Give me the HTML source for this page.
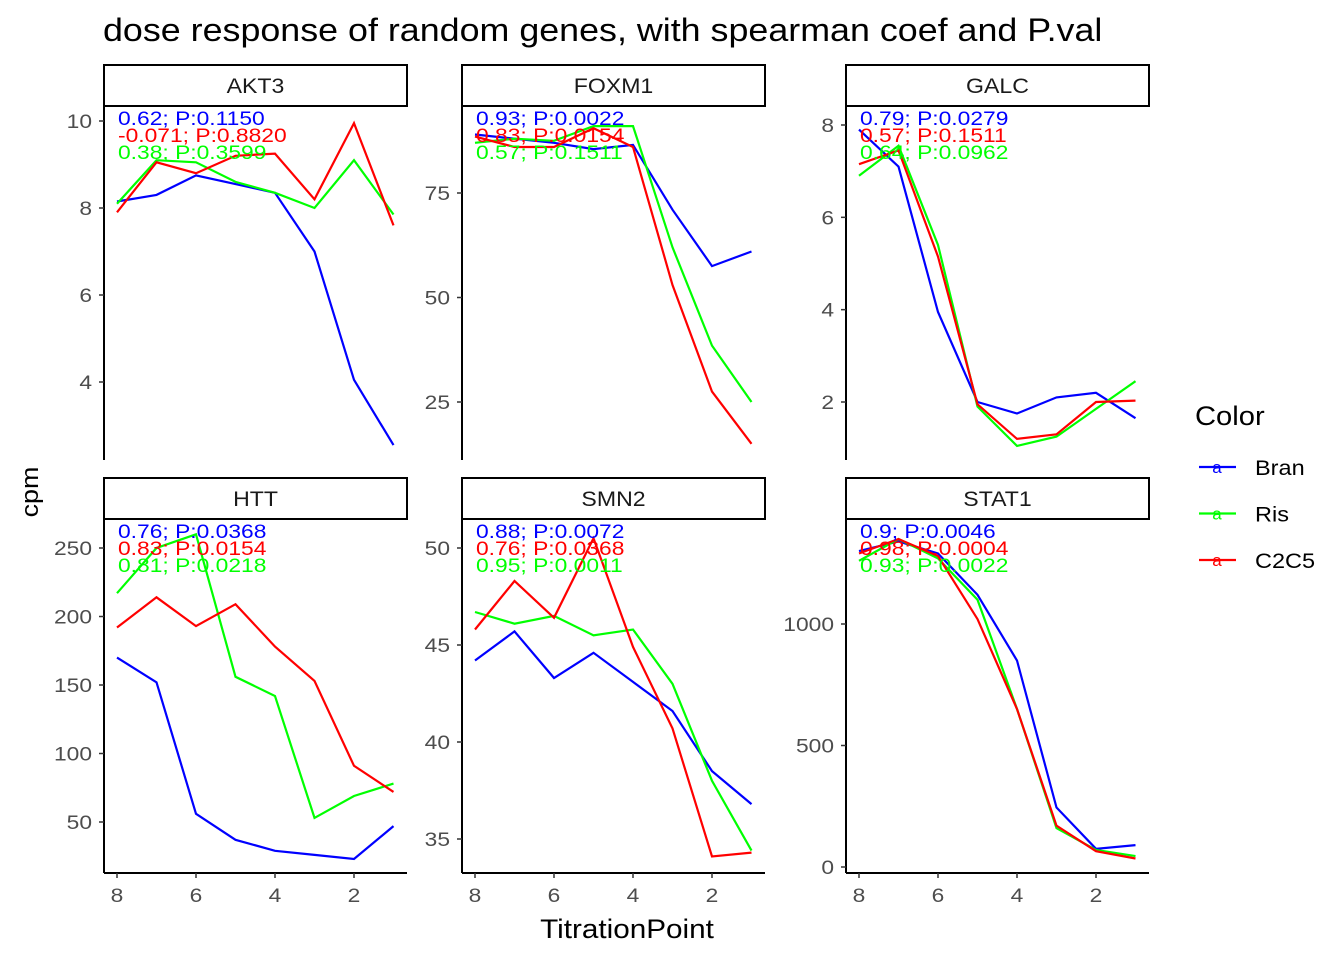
<!DOCTYPE html>
<html><head><meta charset="utf-8">
<style>
html,body{margin:0;padding:0;background:#fff;}
svg{display:block;font-family:"Liberation Sans",sans-serif;}
</style></head>
<body>
<svg id="chart" width="1344" height="960" viewBox="0 0 1344 960" xmlns="http://www.w3.org/2000/svg">
<text transform="translate(103,41) scale(1.12,1)" font-size="32" fill="#000">dose response of random genes, with spearman coef and P.val</text>
<text transform="translate(38,492) rotate(-90) scale(1.12,1)" font-size="24" text-anchor="middle">cpm</text>
<text transform="translate(627,938) scale(1.1,1)" font-size="27" text-anchor="middle">TitrationPoint</text>
<g id="legend">
<text transform="translate(1195,425) scale(1.08,1)" font-size="27">Color</text>
</g>
<g id="panels"></g>
</svg>
<script>
const xPoints = [8,7,6,5,4,3,2,1];
const seriesNames = ["Bran","Ris","C2C5"];
const seriesColors = ["#0000ff","#00ff00","#ff0000"];
const labelColors = ["#0000ff","#ff0000","#00ff00"];
const genes = ["AKT3","FOXM1","GALC","HTT","SMN2","STAT1"];
const akt3Bran = [8.15,8.3,8.75,8.55,8.35,7.0,4.05,2.55];
const akt3Ris = [8.1,9.1,9.05,8.6,8.35,8.0,9.1,7.85];
const akt3C2C5 = [7.9,9.05,8.8,9.2,9.25,8.2,9.95,7.6];
const foxm1Bran = [89,88,87,85.5,86.5,71,57.5,61];
const foxm1Ris = [87,88,87.5,91,91,62,38.5,25];
const foxm1C2C5 = [88.5,86,86,90.5,86,53,27.5,15];
const galcBran = [7.9,7.1,3.95,2.0,1.75,2.1,2.2,1.65];
const galcRis = [6.9,7.55,5.4,1.9,1.05,1.25,1.85,2.45];
const galcC2C5 = [7.15,7.45,5.15,1.95,1.2,1.3,2.0,2.03];
const httBran = [170,152,56,37,29,26,23,47];
const httRis = [217,250,260,156,142,53,69,78];
const httC2C5 = [192,214,193,209,178,153,91,72];
const smn2Bran = [44.2,45.7,43.3,44.6,43.1,41.6,38.5,36.8];
const smn2Ris = [46.7,46.1,46.5,45.5,45.8,43.0,38.0,34.4];
const smn2C2C5 = [45.8,48.3,46.4,50.5,44.9,40.7,34.1,34.3];
const stat1Bran = [1300,1340,1290,1120,850,245,75,90];
const stat1Ris = [1260,1350,1270,1100,650,160,70,45];
const stat1C2C5 = [1290,1350,1280,1020,650,170,65,35];
const akt3Labels = ["0.62; P:0.1150","-0.071; P:0.8820","0.38; P:0.3599"];
const foxm1Labels = ["0.93; P:0.0022","0.83; P:0.0154","0.57; P:0.1511"];
const galcLabels = ["0.79; P:0.0279","0.57; P:0.1511","0.64; P:0.0962"];
const httLabels = ["0.76; P:0.0368","0.83; P:0.0154","0.81; P:0.0218"];
const smn2Labels = ["0.88; P:0.0072","0.76; P:0.0368","0.95; P:0.0011"];
const stat1Labels = ["0.9; P:0.0046","0.98; P:0.0004","0.93; P:0.0022"];
const akt3Ticks = [4,6,8,10];
const foxm1Ticks = [25,50,75];
const galcTicks = [2,4,6,8];
const httTicks = [50,100,150,200,250];
const smn2Ticks = [35,40,45,50];
const stat1Ticks = [0,500,1000];
const xTicks = [8,6,4,2];

const NS="http://www.w3.org/2000/svg";
const root=document.getElementById('panels');
function mk(tag,attrs,parent){const e=document.createElementNS(NS,tag);for(const k in attrs)e.setAttribute(k,attrs[k]);(parent||root).appendChild(e);return e;}
function tx(x,y,sx,attrs,parent){attrs.transform='translate('+x+','+y+') scale('+sx+',1)';attrs.x=0;attrs.y=0;return mk('text',attrs,parent);}
const panels=[
 {series:[akt3Bran,akt3Ris,akt3C2C5],labels:akt3Labels,ticks:akt3Ticks,x0:104,top:106,bot:460,cal:[10,121,4,382]},
 {series:[foxm1Bran,foxm1Ris,foxm1C2C5],labels:foxm1Labels,ticks:foxm1Ticks,x0:462,top:106,bot:460,cal:[75,193,25,402]},
 {series:[galcBran,galcRis,galcC2C5],labels:galcLabels,ticks:galcTicks,x0:846,top:106,bot:460,cal:[8,125,2,402]},
 {series:[httBran,httRis,httC2C5],labels:httLabels,ticks:httTicks,x0:104,top:519,bot:873,cal:[250,548,50,822]},
 {series:[smn2Bran,smn2Ris,smn2C2C5],labels:smn2Labels,ticks:smn2Ticks,x0:462,top:519,bot:873,cal:[50,548,35,839]},
 {series:[stat1Bran,stat1Ris,stat1C2C5],labels:stat1Labels,ticks:stat1Ticks,x0:846,top:519,bot:873,cal:[1000,624,0,867]}
];
panels.forEach((p,i)=>{
 const W=303;
 const g=mk('g',{});
 
 
 const xs=v=>p.x0+13+(8-v)*39.5;
 const ys=v=>p.cal[1]+(v-p.cal[0])*(p.cal[3]-p.cal[1])/(p.cal[2]-p.cal[0]);
 const st=mk('rect',{x:p.x0,y:p.top-41,width:W,height:41,fill:'#fff',stroke:'#000','stroke-width':2},g);
 
 
 const stt=tx(p.x0+W/2,p.top-13,1.1,{'font-size':21,'text-anchor':'middle',fill:'#1a1a1a'},g);
 stt.textContent=genes[i];
 
 
 const ya=mk('line',{x1:p.x0,y1:p.top,x2:p.x0,y2:p.bot,stroke:'#000','stroke-width':2},g);
 
 
 p.ticks.forEach(t=>{
  const y=ys(t);
  mk('line',{x1:p.x0-5,y1:y,x2:p.x0,y2:y,stroke:'#333','stroke-width':1.5},g);
  const tl=tx(p.x0-12,y+7,1.2,{'font-size':19,'text-anchor':'end',fill:'#4d4d4d'},g);
  tl.textContent=t;
  
  
 });
 if(i>=3){
  const xa=mk('line',{x1:p.x0,y1:p.bot,x2:p.x0+W,y2:p.bot,stroke:'#000','stroke-width':2},g);
  
  
  xTicks.forEach(t=>{
   const x=xs(t);
   mk('line',{x1:x,y1:p.bot,x2:x,y2:p.bot+5,stroke:'#333','stroke-width':1.5},g);
   const tl=tx(x,p.bot+29,1.2,{'font-size':19,'text-anchor':'middle',fill:'#4d4d4d'},g);
   tl.textContent=t;
   
   
  });
 }
 p.series.forEach((s,k)=>{
  const d=s.map((v,j)=>(j?'L':'M')+xs(xPoints[j]).toFixed(1)+','+ys(v).toFixed(1)).join(' ');
  const pl=mk('path',{d:d,fill:'none',stroke:seriesColors[k],'stroke-width':2.2},g);
  
  
 });
 p.labels.forEach((l,k)=>{
  const t=tx(p.x0+14,p.top+19+k*17,1.17,{'font-size':19.5,fill:labelColors[k]},g);
  t.textContent=l;
  
  
 });
});
const lg=document.getElementById('legend');
const legendOrder=[0,1,2];
legendOrder.forEach(k=>{
 const n=seriesNames[k];
 const y=467+k*46.5;
 const e=mk('g',{},lg);
 
 
 mk('line',{x1:1199,y1:y,x2:1236,y2:y,stroke:seriesColors[k],'stroke-width':2.2},e);
 const a=mk('text',{x:1217,y:y+6,'font-size':17,'text-anchor':'middle',fill:seriesColors[k]},e);
 a.textContent='a';
 const t=tx(1255,y+8,1.12,{'font-size':21,fill:'#000'},e);
 t.textContent=n;
});
</script>
</body></html>
